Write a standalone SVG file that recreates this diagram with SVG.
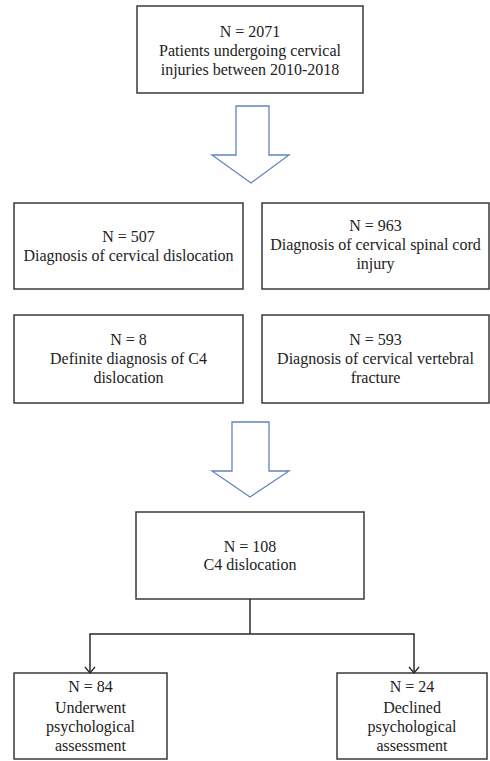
<svg xmlns="http://www.w3.org/2000/svg" width="490" height="761" viewBox="0 0 490 761">
<style>
.box{fill:#fff;stroke:#3a3a3a;stroke-width:1.5}
.t{font-family:"Liberation Serif","Times New Roman",serif;font-size:16px;fill:#222;text-anchor:middle}
.big{fill:#fff;stroke:#5f84bd;stroke-width:1.3;stroke-linejoin:miter}
.ln{fill:none;stroke:#2a2a2a;stroke-width:1.5}
</style>
<defs>
<marker id="ah" markerWidth="12" markerHeight="10" refX="6" refY="9" orient="0" markerUnits="userSpaceOnUse">
<path d="M1,3 L6,9 L11,3" fill="none" stroke="#2a2a2a" stroke-width="1.3"/>
</marker>
</defs>
<rect width="490" height="761" fill="#fff"/>
<g id="n-total">
<rect class="box" x="137" y="6" width="226" height="87"/>
<text class="t" x="250" y="37">N = 2071</text>
<text class="t" x="250" y="56">Patients undergoing cervical</text>
<text class="t" x="250" y="75">injuries between 2010-2018</text>
</g>
<g id="arrow1">
<path class="big" d="M236,106 H269 V155 H289 L251,183 L212,155 H236 Z"/>
</g>
<g id="n-507">
<rect class="box" x="14" y="203" width="229" height="86"/>
<text class="t" x="128.5" y="242">N = 507</text>
<text class="t" x="128.5" y="261">Diagnosis of cervical dislocation</text>
</g>
<g id="n-963">
<rect class="box" x="262" y="203" width="227" height="86"/>
<text class="t" x="375.5" y="231">N = 963</text>
<text class="t" x="375.5" y="250">Diagnosis of cervical spinal cord</text>
<text class="t" x="375.5" y="269">injury</text>
</g>
<g id="n-8">
<rect class="box" x="14" y="315" width="229" height="88"/>
<text class="t" x="128.5" y="345">N = 8</text>
<text class="t" x="128.5" y="364">Definite diagnosis of C4</text>
<text class="t" x="128.5" y="383">dislocation</text>
</g>
<g id="n-593">
<rect class="box" x="262" y="315" width="227" height="88"/>
<text class="t" x="375.5" y="345">N = 593</text>
<text class="t" x="375.5" y="364">Diagnosis of cervical vertebral</text>
<text class="t" x="375.5" y="383">fracture</text>
</g>
<g id="arrow2">
<path class="big" d="M232,422 H269 V471 H289 L250,497 L212,471 H232 Z"/>
</g>
<g id="n-108">
<rect class="box" x="136" y="512" width="228" height="87"/>
<text class="t" x="250" y="552">N = 108</text>
<text class="t" x="250" y="570">C4 dislocation</text>
</g>
<g id="n-84">
<rect class="box" x="14" y="673" width="153" height="86"/>
<text class="t" x="90.5" y="692">N = 84</text>
<text class="t" x="90.5" y="713">Underwent</text>
<text class="t" x="90.5" y="732">psychological</text>
<text class="t" x="90.5" y="751">assessment</text>
</g>
<g id="n-24">
<rect class="box" x="337" y="673" width="150" height="86"/>
<text class="t" x="412" y="692">N = 24</text>
<text class="t" x="412" y="713">Declined</text>
<text class="t" x="412" y="732">psychological</text>
<text class="t" x="412" y="751">assessment</text>
</g>
<g id="connectors">
<path class="ln" d="M250,599 V634"/>
<path class="ln" d="M90,673 V634 H414 V673" marker-start="url(#ah)" marker-end="url(#ah)"/>
</g>
</svg>
